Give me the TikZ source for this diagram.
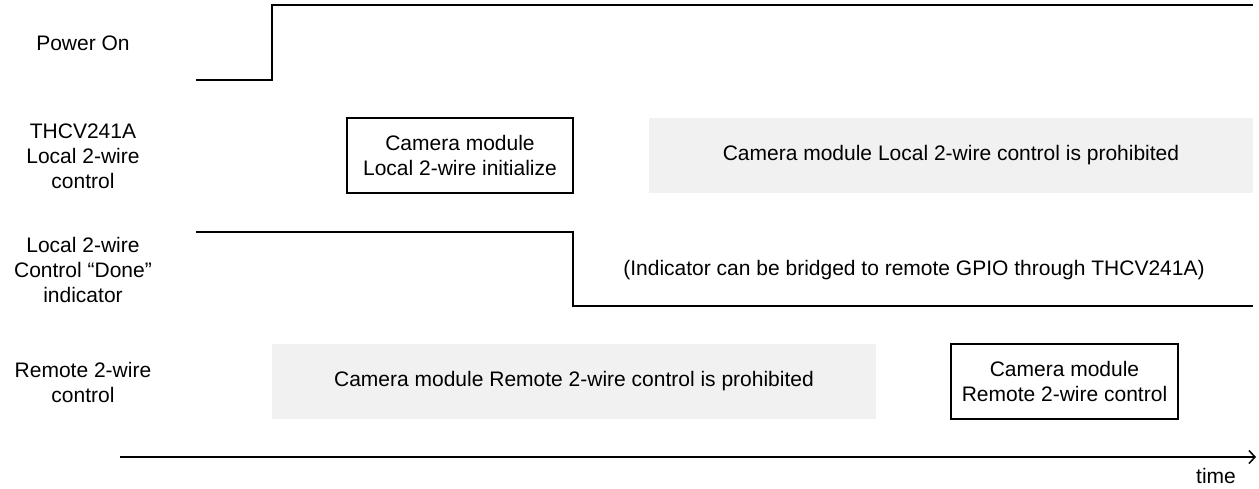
\documentclass[tikz,border=0pt]{standalone}
\usepackage{fontspec}
\setmainfont{Liberation Sans}
\usetikzlibrary{arrows.meta}
\definecolor{bggray}{RGB}{241,241,241}
\begin{document}
\begin{tikzpicture}[x=1pt,y=-1pt,
  font=\fontsize{21}{25}\selectfont,
  sig/.style={line width=2pt, line join=miter},
  lbl/.style={align=center, inner sep=0pt},
  whitebox/.style={draw, line width=2pt, align=center, inner sep=0pt, minimum height=75pt},
  graybox/.style={fill=bggray, align=center, inner sep=0pt, minimum height=75pt}]
\useasboundingbox (0,0) rectangle (1259,488);

% row labels
\node[lbl] (lpower) at (83,43) {Power On};
\node[lbl] (lthcv) at (83,156) {THCV241A\\Local 2-wire\\control};
\node[lbl] (ldone) at (83,270) {Local 2-wire\\Control “Done”\\indicator};
\node[lbl] (lremote) at (83,382) {Remote 2-wire\\control};

% power on waveform
\coordinate (p0) at (196,80);
\coordinate (p1) at (272,80);
\coordinate (p2) at (272,5);
\coordinate (p3) at (1253,5);
\draw[sig] (p0) -- (p1) -- (p2) -- (p3);

% local 2-wire control row
\node[whitebox, minimum width=226pt] (init) at (460,155.5) {Camera module\\Local 2-wire initialize};
\node[graybox, minimum width=604pt] (lprohib) at (951,155.5) {Camera module Local 2-wire control is prohibited};

% done indicator waveform
\coordinate (d0) at (196,232);
\coordinate (d1) at (573,232);
\coordinate (d2) at (573,306);
\coordinate (d3) at (1253,306);
\draw[sig] (d0) -- (d1) -- (d2) -- (d3);
\node[lbl] (note) at (914,270) {(Indicator can be bridged to remote GPIO through THCV241A)};

% remote row
\node[graybox, minimum width=604pt] (rprohib) at (574,381.5) {Camera module Remote 2-wire control is prohibited};
\node[whitebox, minimum width=227pt] (rctrl) at (1064.5,381.5) {Camera module\\Remote 2-wire control};

% time axis
\coordinate (t0) at (120,457);
\coordinate (t1) at (1256,457);
\draw[line width=2pt, -{Straight Barb[length=6pt,width=13pt,line width=1.5pt]}] (t0) -- (t1);
\node[lbl] (time) at (1216,476) {time};
\end{tikzpicture}
\end{document}
